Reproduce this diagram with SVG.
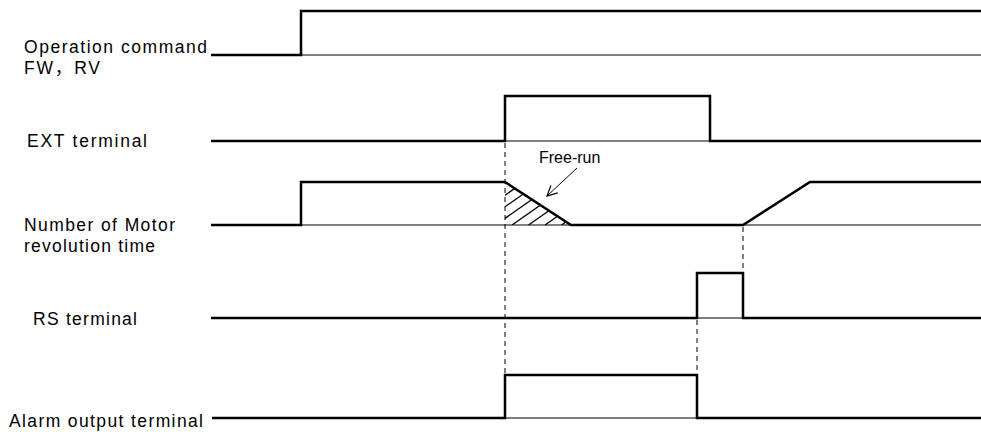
<svg xmlns="http://www.w3.org/2000/svg" width="981" height="432" viewBox="0 0 981 432">
<style>
.lbl{font-family:"Liberation Sans",Arial,"Noto Sans CJK SC",sans-serif;font-size:17.5px;fill:#000}
.fr{font-family:"Liberation Sans",Arial,sans-serif;font-size:16px;fill:#000}
.w{fill:none;stroke:#000;stroke-width:2.5;stroke-linejoin:miter;stroke-linecap:butt}
.b{fill:none;stroke:#000;stroke-width:1}
.d{fill:none;stroke:#000;stroke-width:1;stroke-dasharray:5,4}
.h{fill:none;stroke:#000;stroke-width:1.3}
</style>
<defs>
<marker id="arr" viewBox="0 0 12 12" refX="11" refY="6" markerWidth="12" markerHeight="12" markerUnits="userSpaceOnUse" orient="auto">
<path d="M1,1 L11,6 L1,11" fill="none" stroke="#000" stroke-width="1.2"/>
</marker>
<clipPath id="tri"><polygon points="505,182 571,225 505,225"/></clipPath>
</defs>
<g id="labels">
<text class="lbl" x="24" y="53" textLength="183" lengthAdjust="spacing">Operation command</text>
<text class="lbl" x="24" y="74" textLength="76" lengthAdjust="spacing">FW，RV</text>
<text class="lbl" x="27" y="147" textLength="120" lengthAdjust="spacing">EXT terminal</text>
<text class="lbl" x="24" y="231" textLength="151" lengthAdjust="spacing">Number of Motor</text>
<text class="lbl" x="24" y="252" textLength="131" lengthAdjust="spacing">revolution time</text>
<text class="lbl" x="33" y="325" textLength="104" lengthAdjust="spacing">RS terminal</text>
<text class="lbl" x="9" y="427" textLength="194" lengthAdjust="spacing">Alarm output terminal</text>
</g>
<g id="op-command">
<line class="b" x1="301" y1="55" x2="981" y2="55"/>
<polyline class="w" points="211,55 301,55 301,11 981,11"/>
</g>
<g id="ext-terminal">
<line class="b" x1="505" y1="141" x2="710" y2="141"/>
<polyline class="w" points="211,141 505,141 505,96 710,96 710,141 981,141"/>
</g>
<g id="motor">
<line class="b" x1="301" y1="225" x2="981" y2="225"/>
<polyline class="w" points="211,225 301,225 301,182 505,182 571,225 743,225 810,182 981,182"/>
<g clip-path="url(#tri)">
<line class="h" x1="446" y1="225" x2="506" y2="183"/>
<line class="h" x1="462.5" y1="225" x2="522.5" y2="183"/>
<line class="h" x1="479" y1="225" x2="539" y2="183"/>
<line class="h" x1="495.5" y1="225" x2="555.5" y2="183"/>
<line class="h" x1="512" y1="225" x2="572" y2="183"/>
<line class="h" x1="528.5" y1="225" x2="588.5" y2="183"/>
<line class="h" x1="545" y1="225" x2="605" y2="183"/>
<line class="h" x1="561.5" y1="225" x2="621.5" y2="183"/>
</g>
</g>
<g id="free-run">
<text class="fr" x="539" y="163">Free-run</text>
</g>
<g id="rs-terminal">
<line class="b" x1="697" y1="318" x2="743" y2="318"/>
<polyline class="w" points="211,318 697,318 697,273 743,273 743,318 981,318"/>
</g>
<g id="alarm-output">
<line class="b" x1="505" y1="418" x2="697" y2="418"/>
<polyline class="w" points="212,418 505,418 505,375 697,375 697,418 981,418"/>
</g>
<g id="connectors">
<line class="d" x1="505" y1="143" x2="505" y2="375"/>
<line class="d" x1="697" y1="320" x2="697" y2="375"/>
<line class="d" x1="743" y1="227" x2="743" y2="273"/>
<line class="b" x1="577" y1="168" x2="547" y2="196" marker-end="url(#arr)"/>
</g>
</svg>
